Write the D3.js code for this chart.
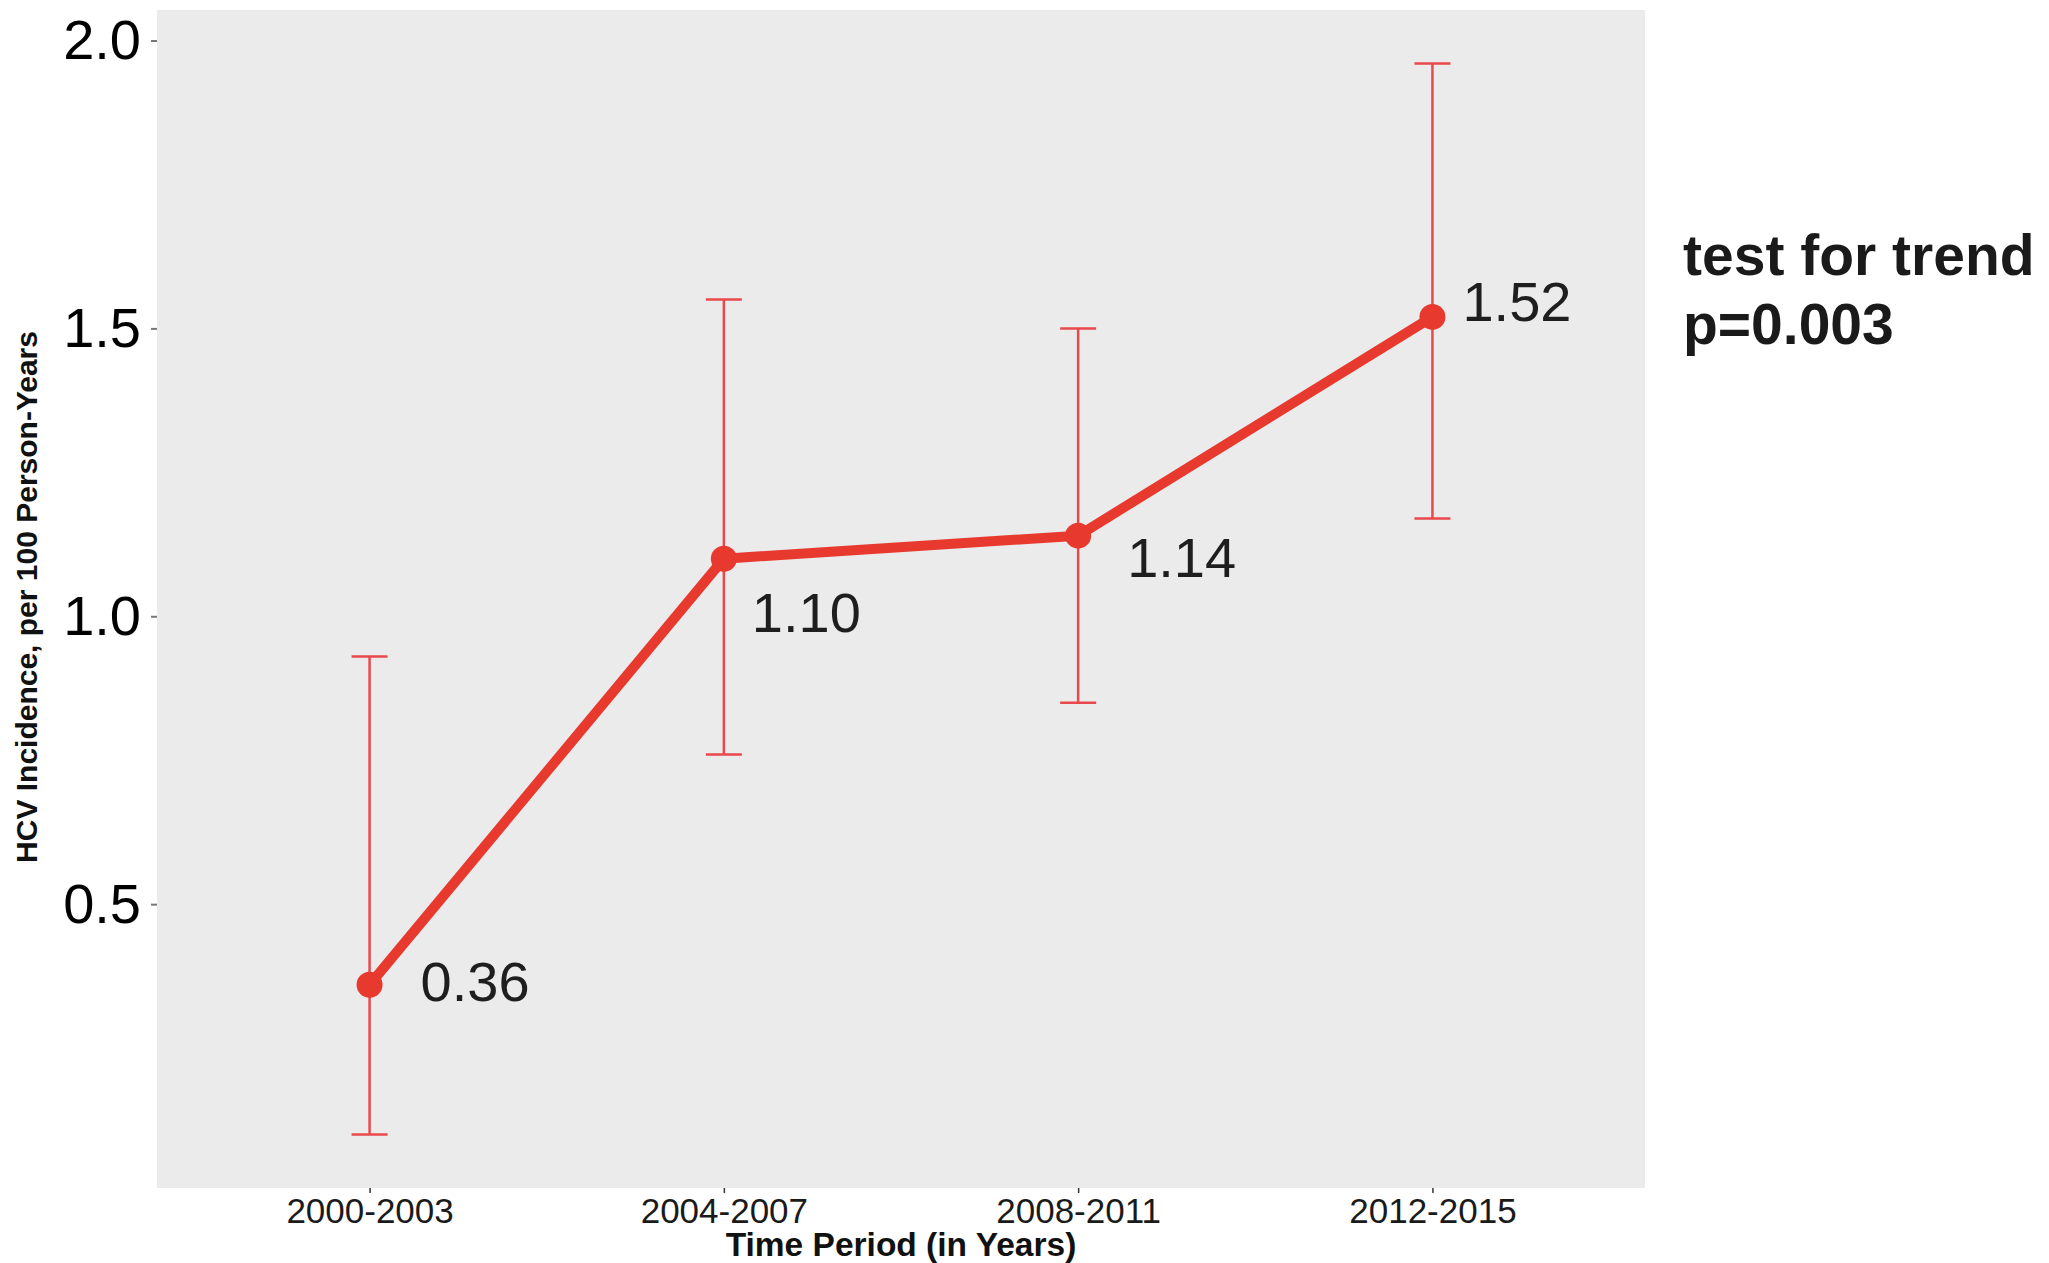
<!DOCTYPE html>
<html>
<head>
<meta charset="utf-8">
<script src="https://cdn.jsdelivr.net/npm/d3@7"></script>
<style>
  html, body { margin: 0; padding: 0; background: #ffffff; }
  svg { display: block; font-family: "Liberation Sans", Arial, sans-serif; }
</style>
</head>
<body>
<svg id="chart" width="2049" height="1263"></svg>
<script>
// HCV incidence per 100 person-years, by calendar period, with 95% CI
const periods = ["2000-2003", "2004-2007", "2008-2011", "2012-2015"];
const incidence = [0.36, 1.10, 1.14, 1.52];
const ciLower = [0.10, 0.76, 0.85, 1.17];
const ciUpper = [0.93, 1.55, 1.50, 1.96];
const valueLabels = ["0.36", "1.10", "1.14", "1.52"];
const yTicks = [0.5, 1.0, 1.5, 2.0];
const trendText = ["test for trend", "p=0.003"];

// per-label offsets (px) of the value text from its point
const labelNudge = [[51, 16], [28, 73], [49, 41], [30, 4]];

const panel = { left: 157, top: 10, right: 1645, bottom: 1188 };
const red = "#E8392E";
const barRed = "#E9494D";

const svg = d3.select("#chart");

// continuous y with 5% expansion around the data range
const yMin = d3.min(ciLower), yMax = d3.max(ciUpper);
const pad = (yMax - yMin) * 0.05;
const y = d3.scaleLinear()
  .domain([yMin - pad, yMax + pad])
  .range([panel.bottom, panel.top]);

// discrete x with 0.6 step of padding at each end
const x = d3.scalePoint()
  .domain(periods)
  .range([panel.left, panel.right])
  .padding(0.6);

// grey plotting panel
svg.append("rect")
  .attr("x", panel.left).attr("y", panel.top)
  .attr("width", panel.right - panel.left)
  .attr("height", panel.bottom - panel.top)
  .attr("fill", "#EBEBEB");

const rows = periods.map((p, i) => ({
  period: p, value: incidence[i], lo: ciLower[i], hi: ciUpper[i],
  label: valueLabels[i], nudge: labelNudge[i]
}));

// error bars
const capHalf = 18;
const eb = svg.append("g").attr("stroke", barRed).attr("stroke-width", 2.5).attr("fill", "none");
eb.selectAll("line.stem").data(rows).join("line")
  .attr("class", "stem")
  .attr("x1", d => x(d.period)).attr("x2", d => x(d.period))
  .attr("y1", d => y(d.lo)).attr("y2", d => y(d.hi));
eb.selectAll("line.capHi").data(rows).join("line")
  .attr("class", "capHi")
  .attr("x1", d => x(d.period) - capHalf).attr("x2", d => x(d.period) + capHalf)
  .attr("y1", d => y(d.hi)).attr("y2", d => y(d.hi));
eb.selectAll("line.capLo").data(rows).join("line")
  .attr("class", "capLo")
  .attr("x1", d => x(d.period) - capHalf).attr("x2", d => x(d.period) + capHalf)
  .attr("y1", d => y(d.lo)).attr("y2", d => y(d.lo));

// trend line
const line = d3.line().x(d => x(d.period)).y(d => y(d.value));
svg.append("path")
  .datum(rows)
  .attr("d", line)
  .attr("fill", "none")
  .attr("stroke", red)
  .attr("stroke-width", 10)
  .attr("stroke-linejoin", "round")
  .attr("stroke-linecap", "round");

// points
svg.append("g").selectAll("circle").data(rows).join("circle")
  .attr("cx", d => x(d.period))
  .attr("cy", d => y(d.value))
  .attr("r", 13)
  .attr("fill", red);

// value labels
svg.append("g").selectAll("text").data(rows).join("text")
  .attr("x", d => x(d.period) + d.nudge[0])
  .attr("y", d => y(d.value) + d.nudge[1])
  .attr("font-size", 56)
  .attr("fill", "#1e1e1e")
  .text(d => d.label);

// y axis
const yAxis = svg.append("g")
  .attr("transform", `translate(${panel.left},0)`)
  .call(d3.axisLeft(y).tickValues(yTicks).tickFormat(d3.format(".1f")).tickSize(6).tickPadding(10));
yAxis.select(".domain").remove();
yAxis.selectAll(".tick line").attr("stroke", "#777").attr("stroke-width", 2);
yAxis.selectAll(".tick text")
  .attr("font-size", 56)
  .attr("font-family", "Liberation Sans, Arial, sans-serif")
  .attr("fill", "#000");

// x axis
const xAxis = svg.append("g")
  .attr("transform", `translate(0,${panel.bottom})`)
  .call(d3.axisBottom(x).tickSize(5).tickPadding(5));
xAxis.select(".domain").remove();
xAxis.selectAll(".tick line").attr("stroke", "#333").attr("stroke-width", 1.5);
xAxis.selectAll(".tick text")
  .attr("font-size", 35)
  .attr("font-family", "Liberation Sans, Arial, sans-serif")
  .attr("fill", "#1a1a1a");

// axis titles
svg.append("text")
  .attr("x", (panel.left + panel.right) / 2)
  .attr("y", 1256)
  .attr("text-anchor", "middle")
  .attr("font-size", 33.5)
  .attr("font-weight", "bold")
  .attr("fill", "#111")
  .text("Time Period (in Years)");

svg.append("text")
  .attr("transform", `translate(37,${(panel.top + panel.bottom) / 2 - 2}) rotate(-90)`)
  .attr("text-anchor", "middle")
  .attr("font-size", 30)
  .attr("font-weight", "bold")
  .attr("fill", "#111")
  .text("HCV Incidence, per 100 Person-Years");

// trend test annotation
svg.append("text")
  .attr("x", 1683)
  .attr("y", 275)
  .attr("font-size", 57)
  .attr("font-weight", "bold")
  .attr("fill", "#1a1a1a")
  .selectAll("tspan").data(trendText).join("tspan")
  .attr("x", 1683)
  .attr("dy", (d, i) => i === 0 ? 0 : 69)
  .text(d => d);
</script>
</body>
</html>
